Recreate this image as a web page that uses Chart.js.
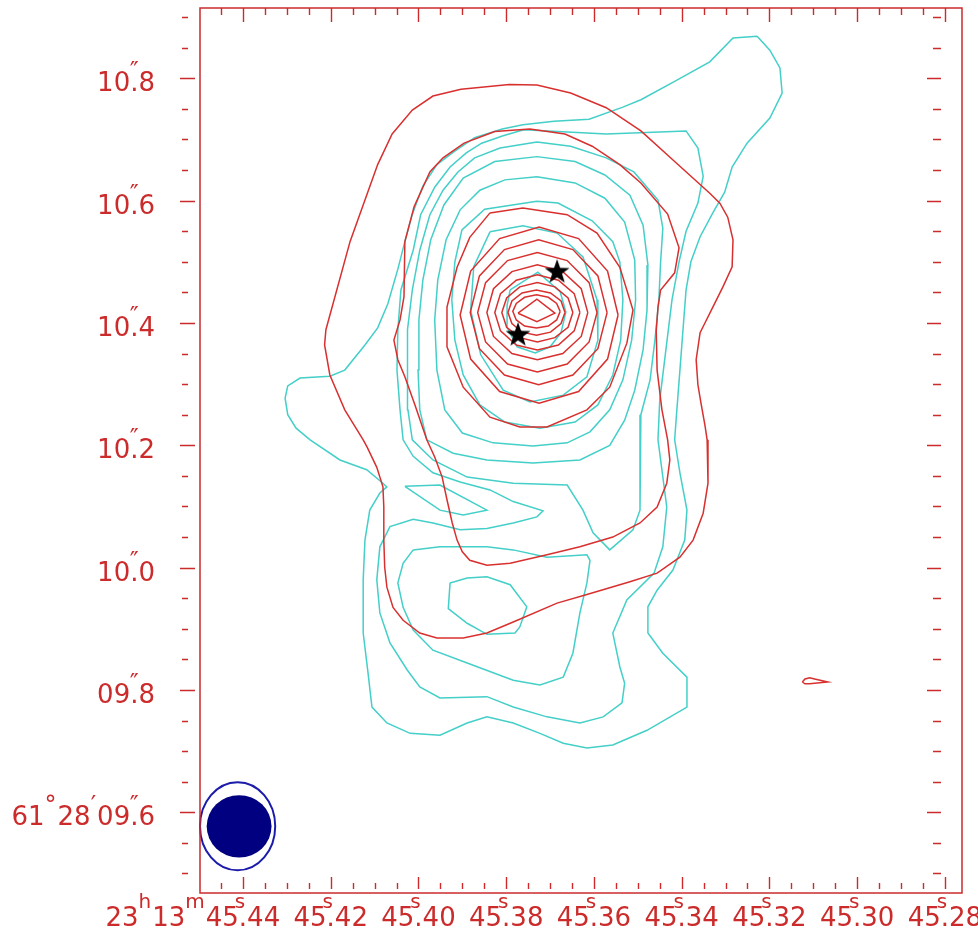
<!DOCTYPE html>
<html><head><meta charset="utf-8">
<script src="https://cdn.jsdelivr.net/npm/chart.js@4"></script>
<style>html,body{margin:0;padding:0;background:#fff;}canvas{display:block;}</style>
</head><body>
<canvas id="c" width="978" height="934"></canvas>
<script>
// ---- axis ranges (RA seconds of 23h13m, Dec arcsec of +61d28m) ----
const raRange = [45.2761, 45.4498];
const decRange = [9.468, 10.915];
const raTickValues = [45.44, 45.42, 45.40, 45.38, 45.36, 45.34, 45.32, 45.30, 45.28];
const raTickLabels = ['45^s.44','45^s.42','45^s.40','45^s.38','45^s.36','45^s.34','45^s.32','45^s.30','45^s.28'];
const raLabelPrefix = '23^h13^m';
const decTickValues = [10.8, 10.6, 10.4, 10.2, 10.0, 9.8, 9.6];
const decTickLabels = ['10^″.8','10^″.6','10^″.4','10^″.2','10^″.0','09^″.8','61^°28^′09^″.6'];

// ---- red contours [RA s, Dec "] ----
const redOuter = [[45.4126,10.209],[45.4168,10.258],[45.4202,10.315],[45.4214,10.364],[45.4211,10.389],[45.4156,10.533],[45.4093,10.659],[45.4060,10.709],[45.4014,10.748],[45.3967,10.771],[45.3903,10.782],[45.3793,10.790],[45.3730,10.789],[45.3653,10.776],[45.3572,10.752],[45.3493,10.714],[45.3416,10.664],[45.3336,10.612],[45.3313,10.596],[45.3295,10.573],[45.3283,10.536],[45.3285,10.492],[45.3306,10.459],[45.3329,10.426],[45.3347,10.400],[45.3358,10.384],[45.3367,10.340],[45.3363,10.299],[45.3356,10.269],[45.3347,10.233],[45.3342,10.209],[45.3340,10.138],[45.3351,10.089],[45.3374,10.045],[45.3404,10.017],[45.3456,9.991],[45.3518,9.977],[45.3616,9.956],[45.3684,9.942],[45.3784,9.911],[45.3844,9.893],[45.3898,9.885],[45.3958,9.885],[45.3997,9.893],[45.4035,9.914],[45.4058,9.935],[45.4072,9.968],[45.4077,10.001],[45.4079,10.045],[45.4079,10.099],[45.4081,10.132],[45.4095,10.164],[45.4117,10.197]];
const redSecond = [[45.3981,10.209],[45.4008,10.266],[45.4031,10.312],[45.4047,10.340],[45.4056,10.372],[45.4042,10.405],[45.4033,10.443],[45.4031,10.533],[45.4010,10.590],[45.3974,10.647],[45.3944,10.670],[45.3896,10.694],[45.3826,10.713],[45.3746,10.717],[45.3666,10.709],[45.3604,10.689],[45.3541,10.659],[45.3493,10.629],[45.3432,10.578],[45.3406,10.523],[45.3416,10.482],[45.3448,10.454],[45.3454,10.426],[45.3458,10.387],[45.3456,10.323],[45.3445,10.258],[45.3432,10.209],[45.3427,10.176],[45.3434,10.138],[45.3456,10.099],[45.3495,10.073],[45.3557,10.050],[45.3632,10.034],[45.3707,10.021],[45.3791,10.007],[45.3844,10.004],[45.3883,10.012],[45.3900,10.026],[45.3912,10.045],[45.3923,10.073],[45.3935,10.111],[45.3946,10.148],[45.3963,10.181]];
const redRing3 = [[45.3837,10.580],[45.3762,10.588],[45.3661,10.577],[45.3593,10.547],[45.3541,10.491],[45.3511,10.421],[45.3525,10.367],[45.3564,10.295],[45.3616,10.258],[45.3707,10.230],[45.3769,10.230],[45.3837,10.246],[45.3898,10.295],[45.3935,10.361],[45.3935,10.426],[45.3912,10.491],[45.3883,10.540]];
const redRing4 = [[45.3545,10.413],[45.3569,10.485],[45.3635,10.538],[45.3725,10.557],[45.3815,10.538],[45.3881,10.485],[45.3905,10.413],[45.3881,10.341],[45.3815,10.288],[45.3725,10.269],[45.3635,10.288],[45.3569,10.341]];
const redRing5 = [[45.3570,10.417],[45.3591,10.477],[45.3648,10.520],[45.3726,10.536],[45.3804,10.520],[45.3861,10.477],[45.3882,10.417],[45.3861,10.358],[45.3804,10.315],[45.3726,10.299],[45.3648,10.315],[45.3591,10.358]];
const redRing6 = [[45.3593,10.417],[45.3611,10.466],[45.3661,10.502],[45.3729,10.515],[45.3797,10.502],[45.3847,10.466],[45.3865,10.417],[45.3847,10.369],[45.3797,10.333],[45.3729,10.320],[45.3661,10.333],[45.3611,10.369]];
const redRing7 = [[45.3614,10.417],[45.3629,10.456],[45.3671,10.484],[45.3729,10.495],[45.3787,10.484],[45.3829,10.456],[45.3844,10.417],[45.3829,10.378],[45.3787,10.350],[45.3729,10.340],[45.3671,10.350],[45.3629,10.378]];
const redRing8 = [[45.3632,10.417],[45.3645,10.448],[45.3681,10.470],[45.3729,10.479],[45.3777,10.470],[45.3813,10.448],[45.3826,10.417],[45.3813,10.387],[45.3777,10.364],[45.3729,10.356],[45.3681,10.364],[45.3645,10.387]];
const redRing9 = [[45.3648,10.417],[45.3659,10.441],[45.3689,10.459],[45.3729,10.466],[45.3769,10.459],[45.3799,10.441],[45.3810,10.417],[45.3799,10.393],[45.3769,10.376],[45.3729,10.369],[45.3689,10.376],[45.3659,10.393]];
const redRing10 = [[45.3666,10.417],[45.3675,10.436],[45.3699,10.449],[45.3731,10.454],[45.3764,10.449],[45.3787,10.436],[45.3796,10.417],[45.3787,10.399],[45.3764,10.385],[45.3731,10.380],[45.3699,10.385],[45.3675,10.399]];
const redRing11 = [[45.3677,10.419],[45.3685,10.432],[45.3704,10.442],[45.3731,10.446],[45.3758,10.442],[45.3777,10.432],[45.3785,10.419],[45.3777,10.405],[45.3758,10.395],[45.3731,10.392],[45.3704,10.395],[45.3685,10.405]];
const redPeak = [[45.3773,10.416],[45.3730,10.439],[45.3689,10.416],[45.3730,10.402]];
const redSpot = [[45.3125,9.813],[45.3119,9.818],[45.3108,9.820],[45.3097,9.818],[45.3067,9.813],[45.3097,9.811],[45.3108,9.810],[45.3119,9.810]];

// ---- cyan contours ----
const cyanOuter = [[45.3228,10.869],[45.3199,10.846],[45.3176,10.817],[45.3171,10.776],[45.3199,10.735],[45.3251,10.694],[45.3285,10.655],[45.3302,10.614],[45.3329,10.580],[45.3358,10.541],[45.3379,10.500],[45.3390,10.454],[45.3397,10.389],[45.3404,10.323],[45.3411,10.258],[45.3416,10.209],[45.3404,10.155],[45.3388,10.094],[45.3393,10.045],[45.3420,9.996],[45.3456,9.963],[45.3477,9.936],[45.3477,9.893],[45.3443,9.860],[45.3388,9.821],[45.3388,9.772],[45.3479,9.734],[45.3557,9.710],[45.3616,9.705],[45.3670,9.713],[45.3723,9.729],[45.3784,9.746],[45.3844,9.756],[45.3889,9.746],[45.3951,9.726],[45.4019,9.729],[45.4072,9.746],[45.4106,9.772],[45.4115,9.828],[45.4126,9.893],[45.4126,9.980],[45.4122,10.045],[45.4111,10.094],[45.4088,10.122],[45.4072,10.132],[45.4081,10.138],[45.4118,10.160],[45.4179,10.176],[45.4247,10.209],[45.4279,10.228],[45.4298,10.250],[45.4304,10.277],[45.4298,10.297],[45.4270,10.310],[45.4202,10.313],[45.4168,10.323],[45.4122,10.364],[45.4093,10.392],[45.4070,10.431],[45.4047,10.488],[45.4031,10.533],[45.4014,10.578],[45.3990,10.624],[45.3958,10.659],[45.3919,10.680],[45.3872,10.703],[45.3809,10.717],[45.3762,10.724],[45.3691,10.730],[45.3611,10.733],[45.3534,10.753],[45.3493,10.765],[45.3416,10.795],[45.3336,10.827],[45.3283,10.866]];
const cyanSecond = [[45.3760,10.716],[45.3572,10.709],[45.3390,10.714],[45.3363,10.686],[45.3351,10.640],[45.3363,10.596],[45.3390,10.550],[45.3406,10.500],[45.3422,10.438],[45.3436,10.356],[45.3450,10.274],[45.3454,10.209],[45.3434,10.099],[45.3443,10.034],[45.3463,9.991],[45.3525,9.947],[45.3557,9.893],[45.3541,9.838],[45.3530,9.811],[45.3536,9.779],[45.3579,9.756],[45.3632,9.746],[45.3707,9.756],[45.3784,9.772],[45.3844,9.789],[45.3951,9.787],[45.3997,9.805],[45.4026,9.833],[45.4065,9.877],[45.4088,9.926],[45.4095,9.980],[45.4088,10.034],[45.4065,10.067],[45.4012,10.079],[45.3967,10.073],[45.3905,10.062],[45.3844,10.064],[45.3784,10.073],[45.3730,10.083],[45.3716,10.093],[45.3784,10.108],[45.3837,10.127],[45.3905,10.140],[45.3967,10.155],[45.4012,10.182],[45.4035,10.209],[45.4042,10.258],[45.4049,10.323],[45.4047,10.389],[45.4040,10.454],[45.4012,10.519],[45.3995,10.577],[45.3963,10.622],[45.3928,10.655],[45.3891,10.678],[45.3856,10.694],[45.3807,10.706]];
const cyanFinger = [[45.4031,10.133],[45.3951,10.135],[45.3844,10.094],[45.3898,10.086],[45.3951,10.094]];
const cyanThird = [[45.3730,10.696],[45.3653,10.689],[45.3572,10.670],[45.3509,10.647],[45.3454,10.601],[45.3443,10.555],[45.3448,10.500],[45.3452,10.438],[45.3461,10.372],[45.3472,10.307],[45.3493,10.250],[45.3495,10.209],[45.3495,10.094],[45.3511,10.062],[45.3564,10.029],[45.3602,10.057],[45.3625,10.094],[45.3661,10.135],[45.3784,10.138],[45.3889,10.148],[45.3967,10.176],[45.4014,10.209],[45.4024,10.258],[45.4026,10.323],[45.4024,10.389],[45.4014,10.454],[45.3997,10.519],[45.3974,10.577],[45.3944,10.617],[45.3910,10.647],[45.3872,10.670],[45.3814,10.686]];
const cyanSouthLoop = [[45.4012,10.029],[45.3951,10.034],[45.3844,10.034],[45.3784,10.029],[45.3707,10.017],[45.3616,10.021],[45.3609,10.012],[45.3616,9.975],[45.3632,9.926],[45.3648,9.860],[45.3670,9.821],[45.3723,9.808],[45.3784,9.816],[45.3889,9.844],[45.3967,9.865],[45.4012,9.898],[45.4035,9.935],[45.4047,9.975],[45.4035,10.007]];
const cyanSouthCore = [[45.3928,9.975],[45.3889,9.983],[45.3844,9.985],[45.3791,9.972],[45.3753,9.936],[45.3769,9.903],[45.3780,9.893],[45.3844,9.891],[45.3889,9.909],[45.3932,9.933]];
const cyanRing4 = [[45.3730,10.672],[45.3643,10.664],[45.3575,10.642],[45.3518,10.609],[45.3488,10.560],[45.3477,10.495],[45.3479,10.421],[45.3488,10.356],[45.3507,10.290],[45.3530,10.241],[45.3564,10.200],[45.3632,10.176],[45.3739,10.171],[45.3844,10.176],[45.3921,10.187],[45.3981,10.209],[45.3997,10.258],[45.4001,10.323],[45.3999,10.405],[45.3990,10.470],[45.3972,10.536],[45.3942,10.593],[45.3898,10.637],[45.3826,10.664]];
const cyanRing5 = [[45.3730,10.639],[45.3643,10.629],[45.3575,10.604],[45.3530,10.565],[45.3507,10.503],[45.3505,10.438],[45.3514,10.372],[45.3534,10.307],[45.3564,10.258],[45.3609,10.222],[45.3661,10.204],[45.3739,10.199],[45.3830,10.204],[45.3900,10.220],[45.3940,10.258],[45.3958,10.323],[45.3963,10.405],[45.3956,10.470],[45.3937,10.536],[45.3905,10.585],[45.3860,10.617],[45.3803,10.634]];
const cyanRing6 = [[45.3730,10.599],[45.3682,10.596],[45.3604,10.567],[45.3557,10.533],[45.3541,10.500],[45.3534,10.438],[45.3539,10.372],[45.3557,10.315],[45.3591,10.266],[45.3643,10.238],[45.3723,10.228],[45.3803,10.238],[45.3860,10.266],[45.3898,10.315],[45.3917,10.372],[45.3924,10.438],[45.3917,10.500],[45.3901,10.552],[45.3849,10.586]];
const cyanRing7 = [[45.3837,10.549],[45.3762,10.559],[45.3684,10.547],[45.3625,10.508],[45.3593,10.438],[45.3591,10.372],[45.3616,10.312],[45.3670,10.282],[45.3746,10.271],[45.3807,10.290],[45.3858,10.348],[45.3881,10.421],[45.3874,10.492]];
const cyanRing8 = [[45.3791,10.454],[45.3728,10.483],[45.3677,10.451],[45.3664,10.418],[45.3675,10.384],[45.3700,10.361],[45.3734,10.351],[45.3775,10.361],[45.3798,10.393],[45.3798,10.429]];

// ---- stars and beams ----
const starPositions = [[45.3684,10.484],[45.3773,10.381]];
const beamCenter = [45.4410, 9.577];
const beamOuterAxes = [0.123, 0.144];   // arcsec (E-W, N-S)
const beamInnerAxes = [0.106, 0.102];

const redLine = '#d8302f', cyanLine = '#44cfc8', axisRed = '#cc2b2b';
const mainFont = "26px 'DejaVu Sans', sans-serif";
const supFont = "20px 'DejaVu Sans', sans-serif";
const symFont = "24px 'DejaVu Sans', sans-serif";

const ring = pts => pts.concat([pts[0]]).map(p => ({x: p[0], y: p[1]}));
const contour = (pts, color) => ({ type: 'scatter', data: ring(pts), showLine: true, borderColor: color,
  borderWidth: 1.5, pointRadius: 0, pointHoverRadius: 0, fill: false, tension: 0 });

// star marker
const starImg = document.createElement('canvas');
starImg.width = 28; starImg.height = 28;
(function(){ const g = starImg.getContext('2d'); g.beginPath();
  for (let i = 0; i < 10; i++) { const r = i % 2 ? 5.2 : 13; const a = -Math.PI/2 + i*Math.PI/5;
    const px = 14 + r*Math.cos(a), py = 14.5 + r*Math.sin(a); i ? g.lineTo(px, py) : g.moveTo(px, py); }
  g.closePath(); g.fillStyle = '#000'; g.fill(); })();

const datasets = [
  { type: 'scatter', data: starPositions.map(p => ({x: p[0], y: p[1]})), pointStyle: starImg, pointRadius: 13, showLine: false },
  ...[redOuter, redSecond, redRing3, redRing4, redRing5, redRing6, redRing7, redRing8, redRing9, redRing10, redRing11, redPeak, redSpot].map(c => contour(c, redLine)),
  ...[cyanOuter, cyanSecond, cyanFinger, cyanThird, cyanSouthLoop, cyanSouthCore, cyanRing4, cyanRing5, cyanRing6, cyanRing7, cyanRing8].map(c => contour(c, cyanLine))
];

const isSym = t => '″°′'.includes(t);
function parseLabel(s) {
  const toks = []; let buf = '';
  for (let i = 0; i < s.length; i++) {
    if (s[i] === '^') { if (buf) { toks.push({t: buf, k: 0}); buf = ''; }
      const sup = s[i+1]; i++; toks.push({t: sup, k: s[i+1] === '.' ? 2 : 1}); }
    else buf += s[i];
  }
  if (buf) toks.push({t: buf, k: 0});
  return toks;
}
function fontFor(tk) { return tk.k === 0 ? mainFont : (isSym(tk.t) ? symFont : supFont); }
function raiseFor(tk) { return isSym(tk.t) ? 12 : 18; }
function labelWidth(ctx, toks) {
  let w = 0; toks.forEach(tk => { if (tk.k === 2) return; ctx.font = fontFor(tk); w += ctx.measureText(tk.t).width + (tk.k ? 1 : 0); });
  return w;
}
function drawLabel(ctx, toks, x, base) {
  let cx = x;
  toks.forEach(tk => {
    if (tk.k === 0) { ctx.font = mainFont; ctx.fillText(tk.t, cx, base); cx += ctx.measureText(tk.t).width; }
    else if (tk.k === 1) { ctx.font = fontFor(tk); ctx.fillText(tk.t, cx, base - raiseFor(tk)); cx += ctx.measureText(tk.t).width + 1; }
    else { ctx.font = mainFont; const dw = ctx.measureText('.').width; ctx.font = fontFor(tk); const sw = ctx.measureText(tk.t).width;
      ctx.fillText(tk.t, cx + dw/2 - sw/2 - (isSym(tk.t) ? 0 : 3), base - raiseFor(tk)); }
  });
}

const beamPlugin = {
  id: 'beam',
  afterDatasetsDraw(chart) {
    const {ctx, scales: {x, y}} = chart;
    const ppa = Math.abs(y.getPixelForValue(beamCenter[1] + 1) - y.getPixelForValue(beamCenter[1]));
    const cx = x.getPixelForValue(beamCenter[0]), cy = y.getPixelForValue(beamCenter[1]);
    ctx.save();
    ctx.beginPath(); ctx.ellipse(cx - 1, cy, beamOuterAxes[0]/2*ppa, beamOuterAxes[1]/2*ppa, 0, 0, Math.PI*2);
    ctx.strokeStyle = '#1c1caa'; ctx.lineWidth = 2; ctx.stroke();
    ctx.beginPath(); ctx.ellipse(cx + 0.5, cy, beamInnerAxes[0]/2*ppa, beamInnerAxes[1]/2*ppa, 0, 0, Math.PI*2);
    ctx.fillStyle = '#000080'; ctx.fill();
    ctx.restore();
  }
};

const framePlugin = {
  id: 'frame',
  afterDraw(chart) {
    const {ctx, chartArea: a, scales: {x, y}} = chart;
    ctx.save();
    ctx.strokeStyle = axisRed; ctx.fillStyle = axisRed;
    ctx.lineWidth = 1.5;
    ctx.strokeRect(a.left, a.top, a.right - a.left, a.bottom - a.top);
    ctx.lineWidth = 1.4;
    ctx.beginPath();
    for (let i = 0; i <= 34; i++) {
      const v = 45.445 - i*0.005; if (v < raRange[0] || v > raRange[1]) continue;
      const px = Math.round(x.getPixelForValue(v)) + 0.5; const major = i % 4 === 1;
      ctx.moveTo(px, a.top); ctx.lineTo(px, a.top + (major ? 14 : 7));
      ctx.moveTo(px, a.bottom - 4); ctx.lineTo(px, a.bottom - (major ? 16 : 10));
    }
    for (let i = 0; i <= 28; i++) {
      const v = 9.5 + i*0.05; const py = Math.round(y.getPixelForValue(v)) + 0.5; const major = i % 4 === 2;
      if (major) { ctx.moveTo(a.left - 20, py); ctx.lineTo(a.left - 5, py); ctx.moveTo(a.right - 35, py); ctx.lineTo(a.right - 21, py); }
      else { ctx.moveTo(a.left - 18, py); ctx.lineTo(a.left - 12, py); ctx.moveTo(a.right - 29, py); ctx.lineTo(a.right - 21, py); }
    }
    ctx.stroke();
    ctx.textAlign = 'left'; ctx.textBaseline = 'alphabetic';
    decTickValues.forEach((v, i) => {
      const toks = parseLabel(decTickLabels[i]); const w = labelWidth(ctx, toks);
      drawLabel(ctx, toks, 155 - w, y.getPixelForValue(v) + 13);
    });
    raTickValues.forEach((v, i) => {
      const toks = parseLabel(raTickLabels[i]); const w = labelWidth(ctx, toks);
      const start = x.getPixelForValue(v) - w/2;
      if (i === 0) { const pt = parseLabel(raLabelPrefix); const pw = labelWidth(ctx, pt); drawLabel(ctx, pt, start - pw, a.bottom + 33); }
      drawLabel(ctx, toks, start, a.bottom + 33);
    });
    ctx.restore();
  }
};

new Chart(document.getElementById('c'), {
  type: 'scatter',
  data: { datasets },
  options: {
    responsive: false, animation: false, events: [],
    layout: { autoPadding: false, padding: { left: 200, top: 8, right: 16, bottom: 41 } },
    plugins: { legend: { display: false }, tooltip: { enabled: false } },
    scales: {
      x: { type: 'linear', reverse: true, min: raRange[0], max: raRange[1], display: false },
      y: { type: 'linear', min: decRange[0], max: decRange[1], display: false }
    }
  },
  plugins: [beamPlugin, framePlugin]
});
</script>
</body></html>
